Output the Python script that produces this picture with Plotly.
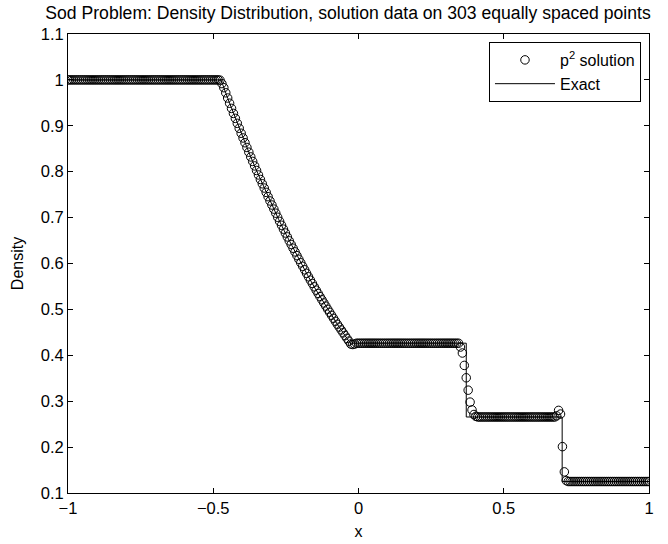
import numpy as np
import plotly.graph_objects as go

# ---- numerical solution (303 equally spaced points on [-1, 1]) ----
n_points = 303
x_grid = np.linspace(-1.0, 1.0, n_points)

left_state = [1.0] * 79 + [0.9995]
rarefaction = [0.9920, 0.9830, 0.9719, 0.9605, 0.9492,
               0.9379, 0.9270, 0.9162, 0.9054, 0.8946,
               0.8838, 0.8735, 0.8631, 0.8528, 0.8425,
               0.8322, 0.8224, 0.8126, 0.8027, 0.7929,
               0.7831, 0.7737, 0.7644, 0.7550, 0.7456,
               0.7363, 0.7274, 0.7185, 0.7096, 0.7007,
               0.6918, 0.6833, 0.6748, 0.6664, 0.6579,
               0.6494, 0.6414, 0.6333, 0.6253, 0.6172,
               0.6092, 0.6015, 0.5939, 0.5863, 0.5786,
               0.5710, 0.5637, 0.5565, 0.5492, 0.5419,
               0.5347, 0.5278, 0.5209, 0.5140, 0.5072,
               0.5003, 0.4938, 0.4872, 0.4807, 0.4742,
               0.4677, 0.4615, 0.4553, 0.4491, 0.4430,
               0.4368, 0.4308]
tail_corner = [0.4245, 0.4235, 0.4245]
star_left = [0.4263] * 54
contact = [0.418, 0.405, 0.378, 0.351, 0.324, 0.298, 0.281, 0.271, 0.267]
star_right = [0.2656] * 41
shock = [0.268, 0.280, 0.272, 0.201, 0.146, 0.127]
right_state = [0.125] * 43

rho_num = (left_state + rarefaction + tail_corner + star_left + contact
           + star_right + shock + right_state)

# ---- exact solution (breakpoints and rarefaction samples) ----
x_exact = [-1.0, -0.4733, -0.45, -0.425, -0.40, -0.375, -0.35, -0.325, -0.30,
           -0.275, -0.25, -0.225, -0.20, -0.175, -0.15, -0.125, -0.10,
           -0.075, -0.05, -0.0282, 0.3709, 0.3709, 0.7011, 0.7011, 1.0]
rho_exact = [1.0, 1.0, 0.9597, 0.9178, 0.8774, 0.8385, 0.8010, 0.7648, 0.7299,
             0.6963, 0.6640, 0.6329, 0.6029, 0.5741, 0.5464, 0.5198, 0.4943,
             0.4697, 0.4462, 0.4264, 0.4264, 0.2656, 0.2656, 0.125, 0.125]

x_ticks = [-1, -0.5, 0, 0.5, 1]
x_tick_text = ["\u22121", "\u22120.5", "0", "0.5", "1"]
y_ticks = [0.1, 0.2, 0.3, 0.4, 0.5, 0.6, 0.7, 0.8, 0.9, 1.0, 1.1]
y_tick_text = ["0.1", "0.2", "0.3", "0.4", "0.5", "0.6", "0.7", "0.8", "0.9", "1", "1.1"]

FONT = "Liberation Sans, Arial, Helvetica, sans-serif"

fig = go.Figure()
fig.add_trace(go.Scatter(
    x=x_grid, y=rho_num, mode="markers", name="p<sup>2</sup> solution",
    marker=dict(symbol="circle-open", size=8.5, color="black",
                line=dict(color="black", width=1)),
))
fig.add_trace(go.Scatter(
    x=x_exact, y=rho_exact, mode="lines", name="Exact",
    line=dict(color="black", width=1),
))

axis_common = dict(
    showline=True, linecolor="black", linewidth=1, mirror="ticks",
    ticks="inside", ticklen=5, tickcolor="black", tickwidth=1,
    showgrid=False, zeroline=False, automargin=False,
    tickfont=dict(family=FONT, size=16.5, color="black"),
)

fig.update_layout(
    width=668, height=544,
    margin=dict(l=68, r=19, t=34, b=51),
    paper_bgcolor="white", plot_bgcolor="white",
    font=dict(family=FONT, size=16, color="black"),
    title=dict(text="Sod Problem: Density Distribution, solution data on 303 equally spaced points",
               x=0.521, xanchor="center", xref="container",
               y=0.976, yanchor="middle", yref="container",
               font=dict(family=FONT, size=17.6, color="black")),
    xaxis=dict(range=[-1, 1], tickvals=x_ticks, ticktext=x_tick_text,
               title=dict(text="x", standoff=10, font=dict(family=FONT, size=16)),
               **axis_common),
    yaxis=dict(range=[0.1, 1.1], tickvals=y_ticks, ticktext=y_tick_text,
               title=dict(text="Density", standoff=13, font=dict(family=FONT, size=16)),
               **axis_common),
    legend=dict(x=0.9862, y=0.9826, xanchor="right", yanchor="top",
                bgcolor="white", bordercolor="black", borderwidth=1,
                font=dict(family=FONT, size=16, color="black"),
                tracegroupgap=0, itemwidth=60),
    showlegend=True,
)

fig.write_html("out.html", config={"displayModeBar": False},
               post_script="document.body.style.margin='0px';")
